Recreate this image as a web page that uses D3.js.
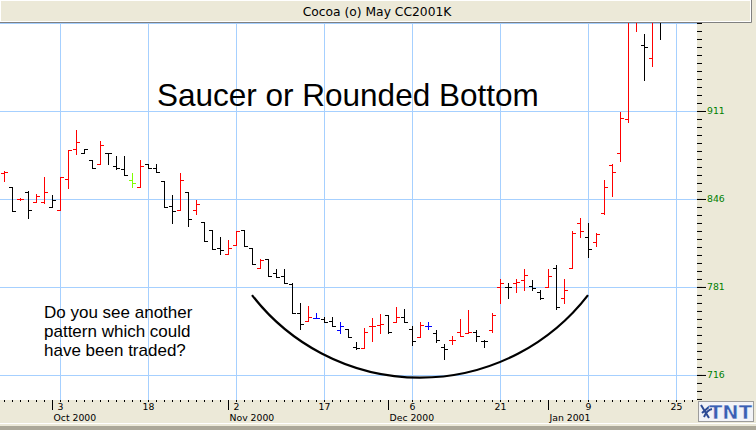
<!DOCTYPE html>
<html>
<head>
<meta charset="utf-8">
<title>Cocoa (o) May CC2001K</title>
<script src="https://cdn.jsdelivr.net/npm/d3@7"></script>
<style>
  body { margin: 0; background: #ECE9D8; }
  svg { display: block; }
</style>
</head>
<body>
<div id="chart"></div>
<script>
// ************chart values*************************************
// trading day of the first bar (day 0 = 3 Oct 2000, one bar per trading day)
const firstDay = -7

const opens = [
  865, 855, 846, 851, 844, 844, 840, 838, 861, 883,
  880, 875, 872, 880, 870, 868, 860, 855, 872, 869,
  859, 841, 838, 851, 838, 829, 823, 810, 805, 812,
  823, 810, 795, 802, 791, 789, 783, 762, 756, 758,
  757, 756, 749, 750, 737, 736, 752, 753, 760, 755,
  759, 750, 744, 752, 747, 737, 742, 748, 747, 748,
  741, 749, 781, 781, 784, 786, 782, 777, 781, 795,
  773, 795, 828, 818, 814, 836, 871, 880, 905, 985,
  960, 950, 995
]

const highs = [
  867, 855, 847, 852, 850, 862, 849, 862, 882, 897,
  883, 875, 889, 880, 878, 878, 865, 875, 872, 872,
  859, 849, 865, 851, 845, 829, 823, 818, 816, 822,
  823, 810, 802, 802, 794, 794, 784, 769, 767, 762,
  759, 759, 755, 750, 740, 751, 758, 761, 760, 766,
  765, 752, 755, 755, 749, 739, 745, 757, 764, 749,
  742, 762, 787, 784, 787, 794, 786, 779, 794, 797,
  787, 822, 832, 828, 821, 860, 872, 910, 1000, 1005,
  968, 985, 1000
]

const lows = [
  859, 837, 845, 832, 844, 843, 840, 838, 854, 879,
  880, 869, 872, 872, 868, 864, 855, 855, 869, 866,
  840, 828, 838, 826, 835, 815, 809, 805, 805, 812,
  811, 798, 795, 789, 788, 784, 762, 750, 756, 758,
  755, 752, 747, 744, 735, 736, 741, 747, 747, 755,
  755, 738, 744, 750, 740, 728, 739, 745, 747, 741,
  737, 748, 769, 773, 777, 779, 779, 772, 781, 765,
  769, 795, 818, 803, 811, 835, 848, 874, 903, 970,
  934, 944, 964
]

const closes = [
  866, 837, 846, 838, 848, 851, 845, 862, 882, 888,
  883, 869, 886, 880, 869, 864, 858, 870, 869, 866,
  840, 837, 860, 831, 842, 815, 809, 808, 810, 822,
  811, 798, 801, 789, 788, 784, 762, 754, 759, 758,
  755, 752, 752, 744, 736, 748, 752, 754, 748, 759,
  755, 741, 753, 752, 742, 735, 742, 745, 748, 745,
  741, 760, 784, 781, 785, 790, 780, 773, 789, 766,
  779, 821, 822, 809, 820, 855, 866, 906, 990, 995,
  958, 980, 978
]

// r = up, k = down, b / g = the odd blue and green bars
const barColors = [
  "r", "k", "r", "k", "r", "r", "k", "r", "r", "r",
  "k", "k", "r", "k", "k", "k", "g", "r", "k", "k",
  "k", "k", "r", "k", "r", "k", "k", "k", "r", "r",
  "k", "k", "r", "k", "k", "k", "k", "k", "r", "b",
  "k", "k", "b", "k", "k", "r", "r", "r", "k", "r",
  "k", "k", "r", "b", "k", "k", "r", "r", "r", "k",
  "k", "r", "r", "k", "r", "r", "k", "k", "r", "k",
  "r", "r", "r", "k", "r", "r", "r", "r", "r", "r",
  "k", "r", "k"
]

const priceTicks = [716, 781, 846, 911]
const gridPrices = [716, 781, 846, 911, 976]
const dayTicks = [0, 11, 22, 33, 44, 55, 66, 77]
const dayLabels = ["3", "18", "2", "17", "6", "21", "9", "25"]
const monthTicks = [-1, 21, 41, 61]
const monthLabels = ["Oct 2000", "Nov 2000", "Dec 2000", "Jan 2001"]

// hand drawn saucer: left rim, bottom, right rim
const saucerDays = [24, 45, 66]
const saucerPrices = [775, 714, 775]

// ************layout***************
const width = 756
const height = 430
const plot = { left: 0, right: 697, top: 23, bottom: 400 }

const colorOf = { r: "#FF0000", k: "#000000", g: "#7FFF00", b: "#0000FF" }
const gridColor = "#A6D0FF"
const beige = "#ECE9D8"

const x = d3.scaleLinear()
  .domain([-7.5, 79.625])
  .range([plot.left, plot.right])

const y = d3.scaleLinear()
  .domain([697.5, 976])
  .range([plot.bottom, plot.top])

const svg = d3.select("#chart")
  .append("svg")
  .attr("width", width)
  .attr("height", height)

svg.append("rect")
  .attr("width", width)
  .attr("height", height)
  .attr("fill", beige)

// title bar
svg.append("rect")
  .attr("x", 0.5)
  .attr("y", 0.5)
  .attr("width", 750)
  .attr("height", 21)
  .attr("fill", beige)
  .attr("stroke", "#FFFFFF")

svg.append("path")
  .attr("d", "M0,22.5H751.5V0")
  .attr("fill", "none")
  .attr("stroke", "#808080")

svg.append("text")
  .attr("x", 377)
  .attr("y", 16)
  .attr("text-anchor", "middle")
  .style("font-family", "DejaVu Sans")
  .style("font-size", "12.3px")
  .style("fill", "#000")
  .text("Cocoa (o) May CC2001K")

// plot area
svg.append("rect")
  .attr("x", plot.left)
  .attr("y", plot.top)
  .attr("width", plot.right - plot.left)
  .attr("height", plot.bottom - plot.top)
  .attr("fill", "#FFFFFF")

svg.append("clipPath")
  .attr("id", "plot-clip")
  .append("rect")
  .attr("x", plot.left)
  .attr("y", plot.top)
  .attr("width", plot.right - plot.left)
  .attr("height", plot.bottom - plot.top)

// grid
svg.append("g")
  .selectAll("line")
  .data(gridPrices)
  .enter()
  .append("line")
  .attr("x1", plot.left)
  .attr("x2", plot.right)
  .attr("y1", function(d) { return Math.round(y(d)) + 0.5 })
  .attr("y2", function(d) { return Math.round(y(d)) + 0.5 })
  .attr("stroke", gridColor)

svg.append("g")
  .selectAll("line")
  .data(dayTicks)
  .enter()
  .append("line")
  .attr("x1", function(d) { return Math.round(x(d)) + 0.5 })
  .attr("x2", function(d) { return Math.round(x(d)) + 0.5 })
  .attr("y1", plot.top)
  .attr("y2", plot.bottom)
  .attr("stroke", gridColor)

// ************OHLC bars***************
const bars = opens.map(function(o, k) {
  return {
    day: firstDay + k,
    open: o,
    high: highs[k],
    low: lows[k],
    close: closes[k],
    color: colorOf[barColors[k]]
  }
})

svg.append("g")
  .attr("clip-path", "url(#plot-clip)")
  .selectAll(".bar")
  .data(bars)
  .enter()
  .append("path")
  .attr("class", "bar")
  .attr("fill", "none")
  .attr("stroke", function(d) { return d.color })
  .attr("stroke-width", 1)
  .attr("d", function(d) {
    const xl = Math.round(x(d.day))
    const yo = Math.round(y(d.open)) + 0.5
    const yc = Math.round(y(d.close)) + 0.5
    return "M" + (xl + 0.5) + "," + Math.round(y(d.high)) +
      "V" + (Math.round(y(d.low)) + 1) +
      "M" + (xl - 3) + "," + yo + "H" + (xl + 1) +
      "M" + xl + "," + yc + "H" + (xl + 4)
  })

// ************saucer curve (circle through rim, bottom, rim)***************
const p = saucerDays.map(function(d, k) { return [x(d), y(saucerPrices[k])] })

function circleThrough(a, b, c) {
  const s = function(q) { return q[0] * q[0] + q[1] * q[1] }
  const den = 2 * (a[0] * (b[1] - c[1]) + b[0] * (c[1] - a[1]) + c[0] * (a[1] - b[1]))
  const cx = (s(a) * (b[1] - c[1]) + s(b) * (c[1] - a[1]) + s(c) * (a[1] - b[1])) / den
  const cy = (s(a) * (c[0] - b[0]) + s(b) * (a[0] - c[0]) + s(c) * (b[0] - a[0])) / den
  return { cx: cx, cy: cy, r: Math.hypot(a[0] - cx, a[1] - cy) }
}

const circ = circleThrough(p[0], p[1], p[2])

svg.append("path")
  .attr("d", "M" + p[0][0] + "," + p[0][1] +
    "A" + circ.r + "," + circ.r + " 0 0 0 " + p[2][0] + "," + p[2][1])
  .attr("fill", "none")
  .attr("stroke", "#000")
  .attr("stroke-width", 2.2)

// ************annotations***************
svg.append("text")
  .attr("x", 157)
  .attr("y", 106)
  .style("font-family", "Liberation Sans")
  .style("font-size", "31.5px")
  .style("fill", "#000")
  .text("Saucer or Rounded Bottom")

const noteLines = ["Do you see another", "pattern which could", "have been traded?"]

svg.append("g")
  .selectAll("text")
  .data(noteLines)
  .enter()
  .append("text")
  .attr("x", 44)
  .attr("y", function(d, i) { return 318 + i * 19 })
  .style("font-family", "Liberation Sans")
  .style("font-size", "17px")
  .style("fill", "#000")
  .text(function(d) { return d })

// ************right price axis***************
const minorTicks = d3.range(0, 48).map(function(k) { return 976 - k * 65 / 11 })

svg.append("g")
  .attr("transform", "translate(" + plot.right + ",0)")
  .style("color", "#000")
  .call(d3.axisRight(y).tickValues(minorTicks).tickSize(5).tickFormat(""))
  .call(function(g) { g.select(".domain").remove() })

svg.append("g")
  .attr("transform", "translate(" + plot.right + ",0)")
  .style("color", "#000")
  .call(d3.axisRight(y).tickValues(priceTicks).tickSize(9).tickPadding(1).tickFormat(d3.format("d")))
  .call(function(g) { g.select(".domain").remove() })
  .selectAll("text")
  .style("font-family", "DejaVu Sans")
  .style("font-size", "9.3px")
  .style("fill", "#008000")

// ************bottom date axis***************
svg.append("g")
  .attr("transform", "translate(0," + plot.bottom + ")")
  .style("color", "#000")
  .call(d3.axisBottom(x).tickValues(d3.range(-7, 80)).tickSize(2).tickFormat(""))
  .call(function(g) { g.select(".domain").remove() })

svg.append("g")
  .attr("transform", "translate(0," + plot.bottom + ")")
  .style("color", "#000")
  .call(d3.axisBottom(x).tickValues(dayTicks).tickSize(2).tickPadding(1)
    .tickFormat(function(d) { return dayLabels[dayTicks.indexOf(d)] }))
  .call(function(g) { g.select(".domain").remove() })
  .selectAll("text")
  .style("font-family", "DejaVu Sans")
  .style("font-size", "9.3px")
  .style("fill", "#000")

svg.append("g")
  .attr("transform", "translate(0," + plot.bottom + ")")
  .style("color", "#000")
  .call(d3.axisBottom(x).tickValues(monthTicks).tickSize(10)
    .tickFormat(function(d) { return monthLabels[monthTicks.indexOf(d)] }))
  .call(function(g) { g.select(".domain").remove() })
  .selectAll("text")
  .attr("text-anchor", "start")
  .attr("x", 1)
  .attr("y", 14)
  .style("font-family", "DejaVu Sans")
  .style("font-size", "9.3px")
  .style("fill", "#000")

// window frame at the bottom
svg.append("line")
  .attr("x1", 0)
  .attr("x2", width)
  .attr("y1", 423.5)
  .attr("y2", 423.5)
  .attr("stroke", "#FFFFFF")

svg.append("rect")
  .attr("x", 0)
  .attr("y", 426)
  .attr("width", width)
  .attr("height", 4)
  .attr("fill", "#ACA899")

// ************TNT logo***************
const logo = svg.append("g")
  .attr("transform", "translate(698,401)")

logo.append("rect")
  .attr("x", 0.5)
  .attr("y", 0.5)
  .attr("width", 55)
  .attr("height", 20)
  .attr("fill", "#F2F3F7")
  .attr("stroke", "#9C9C9C")

logo.append("path")
  .attr("d", "M3,4L11,17M4,12L12,5M6,16Q9,9 14,8")
  .attr("fill", "none")
  .attr("stroke", "#2C4A94")
  .attr("stroke-width", 2)

logo.append("text")
  .attr("x", 11)
  .attr("y", 18)
  .attr("textLength", 43)
  .attr("lengthAdjust", "spacingAndGlyphs")
  .style("font-family", "DejaVu Sans")
  .style("font-weight", "bold")
  .style("font-size", "19px")
  .style("fill", "#3A5FB4")
  .style("stroke", "#FFFFFF")
  .style("stroke-width", 0.4)
  .text("TNT")
</script>
</body>
</html>
